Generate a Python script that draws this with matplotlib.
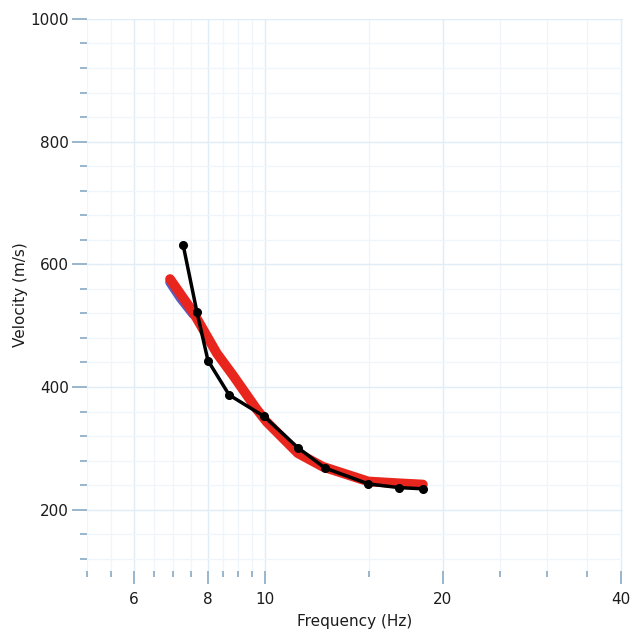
import matplotlib
matplotlib.use("Agg")
import matplotlib.pyplot as plt
from matplotlib.ticker import FixedLocator, FixedFormatter, NullFormatter

# Measured dispersion picks (frequency in Hz, phase velocity in m/s)
picked_freq = [7.27, 7.67, 8.01, 8.70, 9.97, 11.37, 12.63, 14.96, 16.85, 18.53]
picked_vel = [632, 523, 443, 387, 352, 301, 268, 242, 236, 234]

# Theoretical dispersion curve of the inverted models
model_freq = [6.91, 7.56, 8.29, 8.83, 9.68, 10.07, 11.37, 12.53, 14.96, 16.9, 18.5]
model_vel = [576, 522, 455, 419, 364, 343, 292, 270, 246, 243, 241]
# second model, visible only where it departs from the first
alt_freq = [6.91, 7.2, 7.56]
alt_vel = [571, 545, 519]

x_major = [6, 8, 10, 20, 40]
x_minor = [5, 5.5, 6.5, 7, 7.5, 8.5, 9, 9.5, 15, 25, 30, 35]
y_major = [200, 400, 600, 800, 1000]
y_minor = [120, 160, 240, 280, 320, 360, 440, 480, 520, 560,
           640, 680, 720, 760, 840, 880, 920, 960]

tick_col = "#86a9c3"
grid_major = "#e0ecf6"
grid_minor = "#eff5fa"
text_col = "#1c1c1c"

fig = plt.figure(figsize=(6.33, 6.32), dpi=100)
ax = fig.add_axes([0.1374, 0.0965, 0.8465, 0.8735])

ax.set_xscale("log")
ax.set_xlim(5, 40.3)
ax.set_ylim(100, 1000)

for s in ax.spines.values():
    s.set_visible(False)

ax.xaxis.set_major_locator(FixedLocator(x_major))
ax.xaxis.set_major_formatter(FixedFormatter([str(v) for v in x_major]))
ax.xaxis.set_minor_locator(FixedLocator(x_minor))
ax.xaxis.set_minor_formatter(NullFormatter())
ax.yaxis.set_major_locator(FixedLocator(y_major))
ax.yaxis.set_minor_locator(FixedLocator(y_minor))
ax.yaxis.set_minor_formatter(NullFormatter())

ax.tick_params(axis="both", which="major", color=tick_col, width=1.2,
               labelsize=11, labelcolor=text_col)
ax.tick_params(axis="x", which="major", length=9, pad=6)
ax.tick_params(axis="x", which="minor", length=4, width=1.2, color=tick_col)
ax.tick_params(axis="y", which="major", length=11, pad=2)
ax.tick_params(axis="y", which="minor", length=5, width=1.2, color=tick_col)

ax.grid(which="major", color=grid_major, linewidth=1.0)
ax.grid(which="minor", color=grid_minor, linewidth=0.9)
ax.set_axisbelow(True)

ax.set_xlabel("Frequency (Hz)", fontsize=11, color=text_col, labelpad=5)
ax.set_ylabel("Velocity (m/s)", fontsize=11, color=text_col, labelpad=2)

# model curve band
ax.plot(alt_freq, alt_vel, color="#5a5fc0", linewidth=7.0,
        solid_capstyle="round", solid_joinstyle="round", zorder=2)
ax.plot(model_freq, model_vel, color="#e8261e", linewidth=7.0,
        solid_capstyle="round", solid_joinstyle="round", zorder=3)

# picked curve
ax.plot(picked_freq, picked_vel, color="black", linewidth=2.5,
        marker="o", markersize=5.5, zorder=4)

fig.savefig("out.png", dpi=100)
